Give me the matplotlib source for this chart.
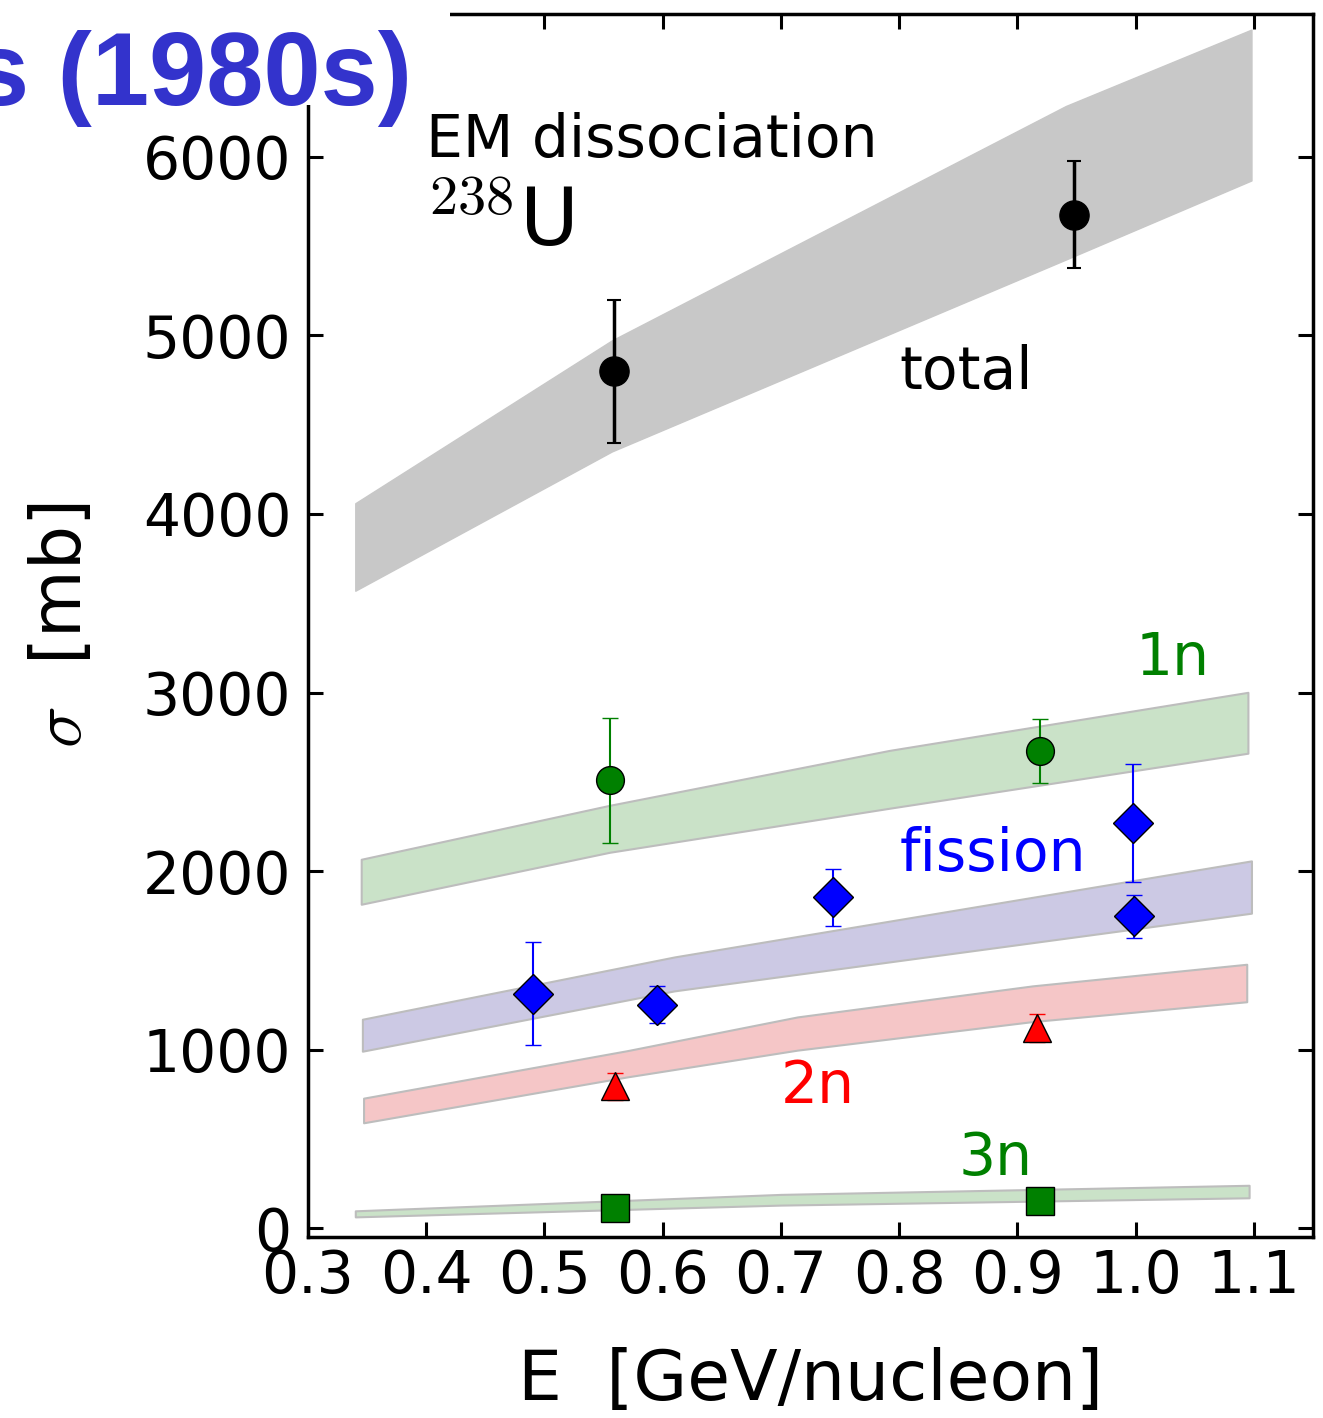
import matplotlib
matplotlib.use("Agg")
import matplotlib.pyplot as plt
from matplotlib.patches import Rectangle

plt.rcParams['font.family'] = ['DejaVu Sans']
plt.rcParams['mathtext.fontset'] = 'cm'

# ---- theory bands (x, lower, upper) ----
total_x = [0.34, 0.557, 0.941, 1.098]
total_lo = [3570, 4350, 5425, 5868]
total_hi = [4060, 4972, 6285, 6713]

n1_x = [0.345, 0.555, 0.792, 1.095]
n1_lo = [1814, 2105, 2352, 2660]
n1_hi = [2066, 2368, 2676, 3001]

fis_x = [0.346, 0.610, 1.098]
fis_lo = [991, 1329, 1764]
fis_hi = [1170, 1519, 2057]

n2_x = [0.347, 0.570, 0.714, 0.913, 1.094]
n2_lo = [590, 847, 997, 1157, 1268]
n2_hi = [728, 994, 1183, 1357, 1478]

n3_x = [0.34, 0.70, 1.096]
n3_lo = [63, 129, 170]
n3_hi = [97, 189, 240]

# ---- data points ----
tot_E = [0.5585, 0.9476]
tot_s = [4800, 5675]
tot_e = [400, 300]

d1n_E = [0.5555, 0.9194]
d1n_s = [2508, 2673]
d1n_e = [350, 180]

fis_E = [0.490, 0.595, 0.744, 0.999, 0.998]
fis_s = [1314, 1252, 1852, 1747, 2269]
fis_e = [290, 103, 160, 120, 328]

d2n_E = [0.5595, 0.917]
d2n_s = [795, 1120]
d2n_e = [75, 77]

d3n_E = [0.5595, 0.919]
d3n_s = [110, 150]

fig = plt.figure(figsize=(13.23, 14.18), dpi=100)
ax = fig.add_axes([0.2328, 0.1276, 0.9924 - 0.2328, 0.9901 - 0.1276])

edge = '#bdbdbd'
ax.fill_between(total_x, total_lo, total_hi, facecolor='#c8c8c8', edgecolor='#c8c8c8', lw=1, zorder=1)
ax.fill_between(n1_x, n1_lo, n1_hi, facecolor='#cae2c8', edgecolor=edge, lw=1.5, zorder=1)
ax.fill_between(fis_x, fis_lo, fis_hi, facecolor='#ccc9e4', edgecolor=edge, lw=1.5, zorder=1)
ax.fill_between(n2_x, n2_lo, n2_hi, facecolor='#f5c6c7', edgecolor=edge, lw=1.5, zorder=1)
ax.fill_between(n3_x, n3_lo, n3_hi, facecolor='#cae2c8', edgecolor=edge, lw=1.5, zorder=1)

ax.errorbar(tot_E, tot_s, yerr=tot_e, fmt='o', color='black', ms=21, mec='black',
            elinewidth=2.5, capsize=5, capthick=1.5, zorder=3)
ax.errorbar(d1n_E, d1n_s, yerr=d1n_e, fmt='o', color='green', ms=20, mec='black', mew=1,
            ecolor='green', elinewidth=1.5, capsize=6, capthick=1.5, zorder=3)
ax.errorbar(fis_E, fis_s, yerr=fis_e, fmt='D', color='blue', ms=20, mec='black', mew=1,
            ecolor='blue', elinewidth=1.5, capsize=6, capthick=1.5, zorder=3)
ax.errorbar(d2n_E, d2n_s, yerr=d2n_e, fmt='^', color='red', ms=20, mec='black', mew=1,
            ecolor='red', elinewidth=1.5, capsize=6, capthick=1.5, zorder=3)
ax.plot(d3n_E, d3n_s, 's', color='green', ms=20, mec='black', mew=1, zorder=3)

ax.set_xlim(0.3, 1.15)
ax.set_ylim(-50, 6800)
ax.set_xticks([0.3, 0.4, 0.5, 0.6, 0.7, 0.8, 0.9, 1.0, 1.1])
ax.set_xticklabels(['0.3', '0.4', '0.5', '0.6', '0.7', '0.8', '0.9', '1.0', '1.1'])
ax.set_yticks([0, 1000, 2000, 3000, 4000, 5000, 6000])

ax.tick_params(axis='both', which='major', direction='in', length=11, width=2.2,
               labelsize=42, top=True, right=True)
ax.tick_params(axis='x', pad=8)
ax.tick_params(axis='y', pad=12)
for s in ax.spines.values():
    s.set_linewidth(2.5)

ax.set_xlabel('E  [GeV/nucleon]', fontsize=50, labelpad=30)
ax.set_ylabel(r'$\sigma$  [mb]', fontsize=50, labelpad=34)

ax.text(0.4, 6000, 'EM dissociation', fontsize=42, ha='left', va='baseline')
ax.text(0.4, 5500, r'$^{238}$U', fontsize=58, ha='left', va='baseline')
ax.text(0.8, 4700, 'total', fontsize=42, ha='left', va='baseline')
ax.text(1.0, 3100, '1n', fontsize=42, color='green', ha='left', va='baseline')
ax.text(0.8, 2000, 'fission', fontsize=42, color='blue', ha='left', va='baseline')
ax.text(0.7, 700, '2n', fontsize=42, color='red', ha='left', va='baseline')
ax.text(0.85, 300, '3n', fontsize=42, color='green', ha='left', va='baseline')

# white slide box covering the corner, and title fragment
fig.patches.append(Rectangle((0, 1 - 105 / 1418), 450 / 1323, 105 / 1418,
                             transform=fig.transFigure, facecolor='white',
                             edgecolor='none', zorder=10))
fig.text(412 / 1323, 1 - 105 / 1418, 's (1980s)', fontsize=74, fontweight='bold',
         color='#3333cc', family='Liberation Sans', ha='right', va='baseline', zorder=11)

fig.savefig('out.png', dpi=100, facecolor='white')
